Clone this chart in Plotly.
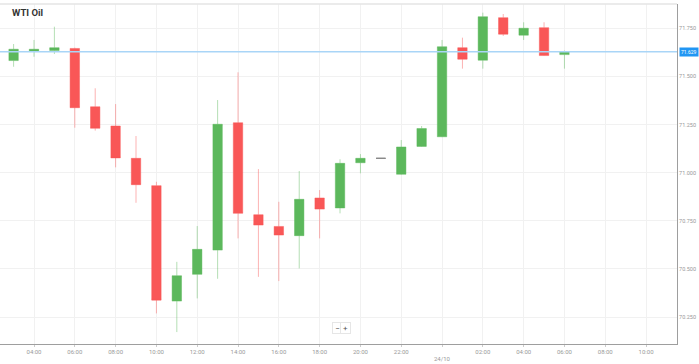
import plotly.graph_objects as go

title = "WTI Oil"

times = [
    "2019-10-23 02:00", "2019-10-23 03:00", "2019-10-23 04:00", "2019-10-23 05:00",
    "2019-10-23 06:00", "2019-10-23 07:00", "2019-10-23 08:00", "2019-10-23 09:00",
    "2019-10-23 10:00", "2019-10-23 11:00", "2019-10-23 12:00", "2019-10-23 13:00",
    "2019-10-23 14:00", "2019-10-23 15:00", "2019-10-23 16:00", "2019-10-23 17:00",
    "2019-10-23 18:00", "2019-10-23 19:00", "2019-10-23 20:00", "2019-10-23 21:00",
    "2019-10-23 22:00", "2019-10-23 23:00", "2019-10-24 00:00", "2019-10-24 01:00",
    "2019-10-24 02:00", "2019-10-24 03:00", "2019-10-24 04:00", "2019-10-24 05:00",
    "2019-10-24 06:00",
]
opens = [71.500, 71.583, 71.633, 71.635, 71.646, 71.343, 71.243, 71.075,
         70.933, 70.333, 70.472, 70.598, 71.260, 70.782, 70.721, 70.673,
         70.869, 70.817, 71.052, 71.075, 70.992, 71.137, 71.187, 71.650,
         71.585, 71.806, 71.715, 71.754, 71.614]
highs = [71.600, 71.669, 71.690, 71.759, 71.650, 71.439, 71.357, 71.191,
         70.953, 70.537, 70.723, 71.378, 71.522, 71.019, 70.849, 71.009,
         70.910, 71.070, 71.097, 71.075, 71.170, 71.243, 71.690, 71.702,
         71.832, 71.825, 71.782, 71.782, 71.635]
lows = [71.480, 71.551, 71.603, 71.617, 71.234, 71.219, 71.028, 70.844,
        70.269, 70.172, 70.347, 70.449, 70.659, 70.459, 70.437, 70.503,
        70.659, 70.789, 70.997, 71.075, 70.990, 71.135, 71.185, 71.541,
        71.541, 71.711, 71.690, 71.607, 71.541]
closes = [71.578, 71.642, 71.642, 71.650, 71.338, 71.231, 71.077, 70.938,
          70.338, 70.465, 70.602, 71.252, 70.789, 70.728, 70.676, 70.862,
          70.811, 71.049, 71.075, 71.075, 71.134, 71.230, 71.655, 71.590,
          71.811, 71.720, 71.751, 71.609, 71.629]

x_tickvals = ["2019-10-23 04:00", "2019-10-23 06:00", "2019-10-23 08:00", "2019-10-23 10:00",
              "2019-10-23 12:00", "2019-10-23 14:00", "2019-10-23 16:00", "2019-10-23 18:00",
              "2019-10-23 20:00", "2019-10-23 22:00", "2019-10-24 00:00", "2019-10-24 02:00",
              "2019-10-24 04:00", "2019-10-24 06:00", "2019-10-24 08:00", "2019-10-24 10:00"]
x_ticktext = ["04:00", "06:00", "08:00", "10:00", "12:00", "14:00", "16:00", "18:00",
              "20:00", "22:00", "", "02:00", "04:00", "06:00", "08:00", "10:00"]
date_label = "24/10"
date_label_at = "2019-10-24 00:00"
y_tickvals = [70.25, 70.5, 70.75, 71.0, 71.25, 71.5, 71.75]

GREEN = "#5cb85c"
RED = "#f95757"


def pick(flag):
    o, h, l, c = [], [], [], []
    for oo, hh, ll, cc in zip(opens, highs, lows, closes):
        keep = (oo == cc) == flag
        o.append(oo if keep else None)
        h.append(hh if keep else None)
        l.append(ll if keep else None)
        c.append(cc if keep else None)
    return o, h, l, c


o1, h1, l1, c1 = pick(False)
o2, h2, l2, c2 = pick(True)

fig = go.Figure()
fig.add_trace(go.Candlestick(
    x=times, open=o1, high=h1, low=l1, close=c1,
    increasing=dict(fillcolor=GREEN, line=dict(color="rgba(92,184,92,0.45)", width=1)),
    decreasing=dict(fillcolor=RED, line=dict(color="rgba(249,87,87,0.45)", width=1)),
    showlegend=False, hoverinfo="skip",
))
fig.add_trace(go.Candlestick(
    x=times, open=o2, high=h2, low=l2, close=c2,
    increasing=dict(fillcolor="#888888", line=dict(color="#888888", width=1)),
    decreasing=dict(fillcolor="#888888", line=dict(color="#888888", width=1)),
    showlegend=False, hoverinfo="skip",
))

last = closes[-1]

fig.add_shape(type="line", xref="paper", yref="y", x0=0, x1=1, y0=last, y1=last,
              line=dict(color="#a9d5f7", width=1.5), layer="above")
fig.add_shape(type="line", xref="paper", yref="paper", x0=0, x1=1, y0=1.0, y1=1.0,
              line=dict(color="#e4e4e4", width=1.5))

fig.add_annotation(xref="paper", yref="y", x=1.0, y=last, xanchor="left", xshift=2,
                   text=f"{last:.3f}", showarrow=False,
                   font=dict(size=5, color="white", family="Roboto"),
                   bgcolor="#2196f3", borderpad=1)
fig.add_annotation(xref="paper", yref="paper", x=10 / 677, y=0.974, xanchor="left",
                   yanchor="middle", text=f"<b>{title}</b>", showarrow=False,
                   font=dict(size=9.5, color="#333333", family="Roboto"))
fig.add_annotation(xref="x", yref="paper", x=date_label_at, y=0, yshift=-14,
                   yanchor="middle", text=date_label, showarrow=False,
                   font=dict(size=6, color="#999999", family="Roboto"))
fig.add_annotation(xref="paper", yref="paper", x=337 / 677, y=0.03, text="−",
                   showarrow=False, font=dict(size=8, color="#555555"),
                   bgcolor="white", bordercolor="#e6e6e6", borderwidth=1, width=7, height=8)
fig.add_annotation(xref="paper", yref="paper", x=345 / 677, y=0.03, text="+",
                   showarrow=False, font=dict(size=8, color="#555555"),
                   bgcolor="white", bordercolor="#e6e6e6", borderwidth=1, width=7, height=8)

fig.update_layout(
    width=699, height=364,
    margin=dict(l=0, r=22, t=4, b=20),
    paper_bgcolor="white", plot_bgcolor="white",
    font=dict(family="Roboto", size=6, color="#999999"),
    boxgap=0.34,
    xaxis=dict(
        type="date", automargin=False,
        range=["2019-10-23 02:20", "2019-10-24 11:31"],
        rangeslider=dict(visible=False),
        tickvals=x_tickvals, ticktext=x_ticktext,
        showgrid=True, gridcolor="#f1f1f1", gridwidth=1,
        showline=True, linecolor="#9e9e9e", linewidth=1,
        ticks="outside", ticklen=2, tickcolor="#cccccc",
        tickfont=dict(size=6, color="#999999"),
        zeroline=False, fixedrange=True,
    ),
    yaxis=dict(
        side="right", automargin=False,
        range=[70.110, 71.877],
        tickvals=y_tickvals, tickformat=".3f",
        showgrid=True, gridcolor="#f1f1f1", gridwidth=1,
        showline=True, linecolor="#9e9e9e", linewidth=1,
        ticks="", tickfont=dict(size=5.5, color="#999999"),
        zeroline=False, fixedrange=True,
    ),
)

fig.write_html("out.html", post_script="document.body.style.margin='0';",
               config={"displayModeBar": False})
